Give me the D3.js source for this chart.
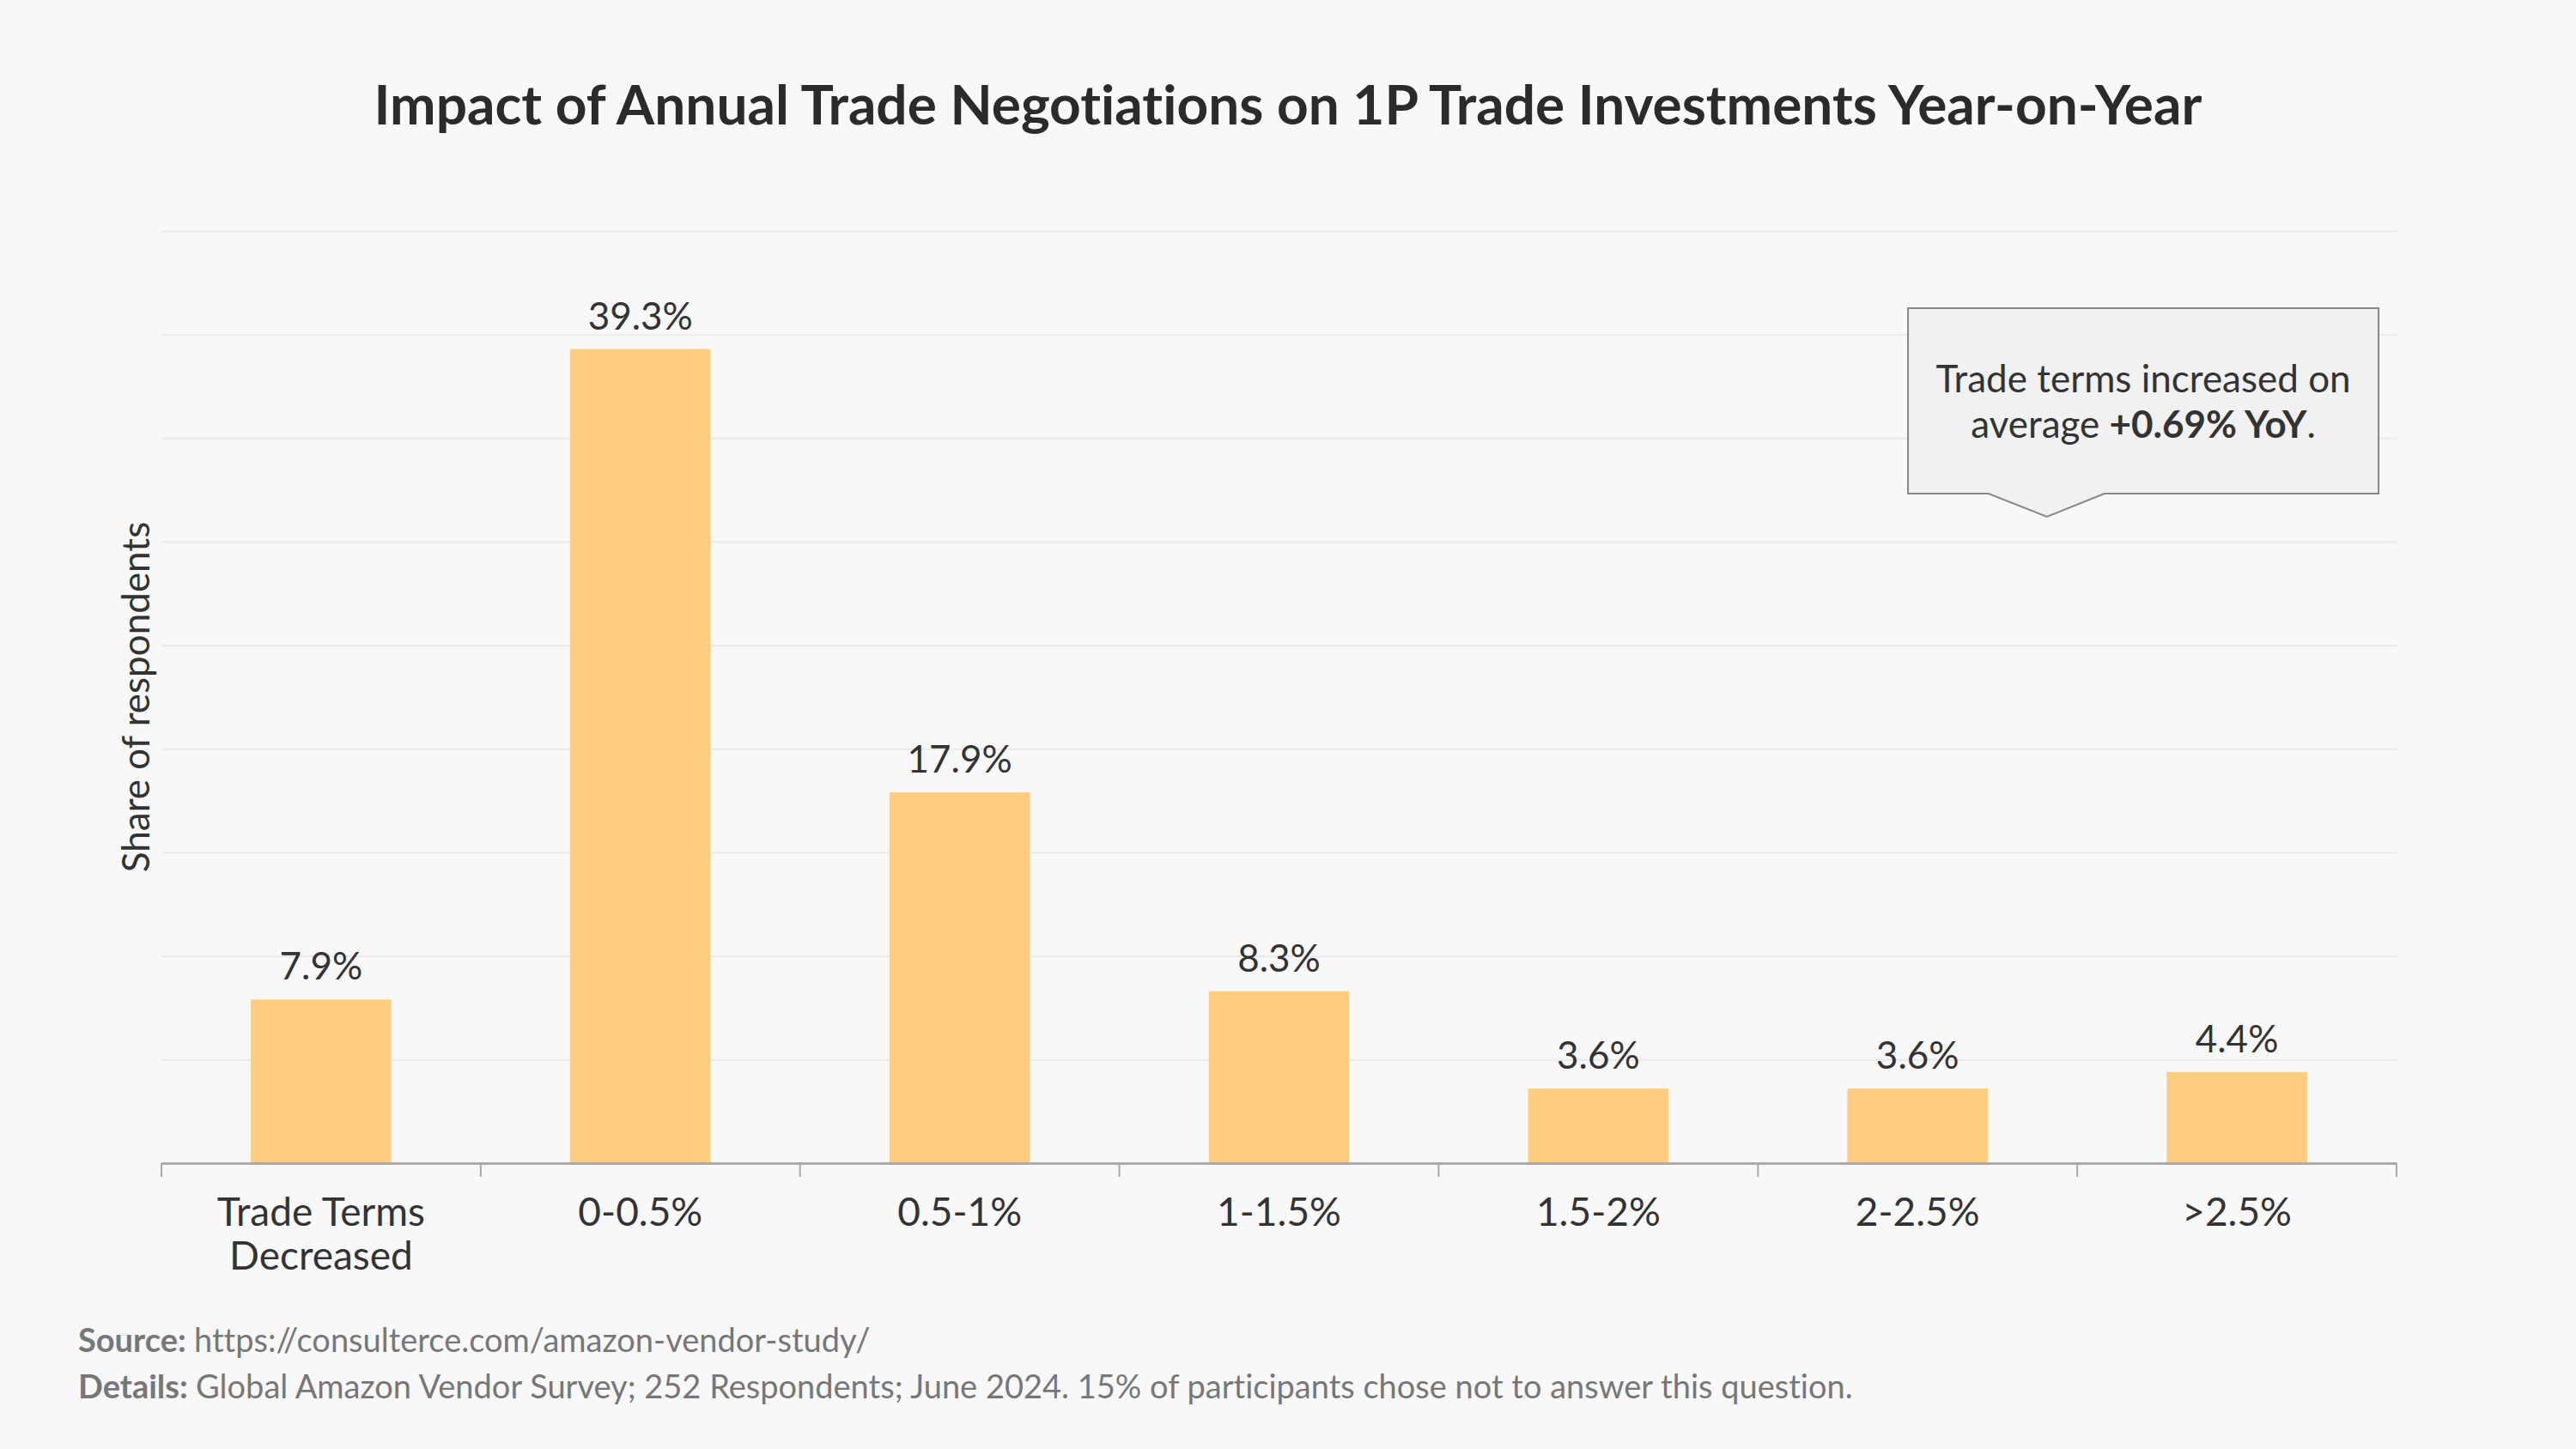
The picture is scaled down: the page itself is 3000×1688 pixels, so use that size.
<!DOCTYPE html>
<html>
<head>
<meta charset="utf-8">
<script src="https://cdn.jsdelivr.net/npm/d3@7"></script>
<style>
  html, body { margin: 0; padding: 0; background: #f8f8f8; }
  svg { display: block; font-family: Lato, "Open Sans", sans-serif; font-variant-ligatures: none; }
</style>
</head>
<body>
<svg id="chart"></svg>
<script>
let barColor = "#FFCD80";
let gridColor = "#E9E9E9";
let axisColor = "#AAAAAA";
let textDark = "#333333";
let textGray = "#777777";

const categories = ["Trade Terms Decreased", "0-0.5%", "0.5-1%", "1-1.5%", "1.5-2%", "2-2.5%", ">2.5%"];
const shares = [7.9, 39.3, 17.9, 8.3, 3.6, 3.6, 4.4];
const yTicks = [5, 10, 15, 20, 25, 30, 35, 40, 45];

const titleText = "Impact of Annual Trade Negotiations on 1P Trade Investments Year-on-Year";
const yLabel = "Share of respondents";
const noteLine1 = "Trade terms increased on";
const noteLine2a = "average ";
const noteLine2b = "+0.69% YoY";
const sourceText = "https://consulterce.com/amazon-vendor-study/";
const detailsText = "Global Amazon Vendor Survey; 252 Respondents; June 2024. 15% of participants chose not to answer this question.";

const data = categories.map((c, i) => ({ category: c, value: shares[i] }));

const width = 3000;
const height = 1688;
const margin = { top: 269, right: 209, bottom: 333, left: 188 };

let boundedWidth = width - margin.left - margin.right;
let boundedHeight = height - margin.top - margin.bottom;

const svg = d3.select("#chart")
  .attr("width", width)
  .attr("height", height);

svg.append("rect")
  .attr("width", width)
  .attr("height", height)
  .attr("fill", "#f8f8f8");

// title
svg.append("text")
  .attr("x", width / 2)
  .attr("y", 145)
  .attr("text-anchor", "middle")
  .attr("fill", "#2b2b2b")
  .style("font-size", "64px")
  .style("font-weight", "700")
  .text(titleText);

const g = svg.append("g")
  .attr("transform", `translate(${margin.left}, ${margin.top})`);

const xScale = d3.scaleBand()
  .domain(categories)
  .range([0, boundedWidth])
  .padding(0);

const yScale = d3.scaleLinear()
  .domain([0, 45])
  .range([boundedHeight, 0]);

//grid lines
g.append("g")
  .attr("class", "grid")
  .call(d3.axisLeft(yScale)
    .tickValues(yTicks)
    .tickSize(-boundedWidth)
    .tickFormat(""))
  .call(s => s.select(".domain").remove());

g.selectAll(".grid .tick line")
  .attr("stroke", gridColor)
  .attr("stroke-width", 2);

//bars
const bw = xScale.bandwidth();
const barW = bw * 0.44;

g.selectAll(".bar")
  .data(data)
  .enter()
  .append("rect")
  .attr("class", "bar")
  .attr("x", d => xScale(d.category) + (bw - barW) / 2)
  .attr("y", d => yScale(d.value))
  .attr("width", barW)
  .attr("height", d => boundedHeight - yScale(d.value))
  .attr("fill", barColor);

//value labels
g.selectAll(".val")
  .data(data)
  .enter()
  .append("text")
  .attr("class", "val")
  .attr("x", d => xScale(d.category) + bw / 2)
  .attr("y", d => yScale(d.value) - 23)
  .attr("text-anchor", "middle")
  .attr("fill", textDark)
  .style("font-size", "44px")
  .text(d => d.value.toFixed(1) + "%");

//x axis
const xAxis = g.append("g")
  .attr("class", "xaxis")
  .attr("transform", `translate(0, ${boundedHeight})`)
  .call(d3.axisBottom(xScale).tickSize(0).tickPadding(0));

xAxis.select(".domain")
  .attr("stroke", axisColor)
  .attr("stroke-width", 3);

xAxis.selectAll(".tick text")
  .attr("fill", textDark)
  .attr("dy", null)
  .attr("y", 73)
  .style("font-size", "46px")
  .style("font-family", "Lato, sans-serif")
  .call(wrap, bw * 0.8);

// tick marks at band edges
const edges = categories.map(c => xScale(c)).concat([xScale.range()[1]]);
xAxis.selectAll(".edge")
  .data(edges)
  .enter()
  .append("line")
  .attr("class", "edge")
  .attr("x1", d => d)
  .attr("x2", d => d)
  .attr("y1", 0)
  .attr("y2", 16)
  .attr("stroke", axisColor)
  .attr("stroke-width", 2);

//y label
svg.append("text")
  .attr("transform", `translate(174, ${margin.top + boundedHeight / 2}) rotate(-90)`)
  .attr("text-anchor", "middle")
  .attr("fill", textDark)
  .style("font-size", "44px")
  .text(yLabel);

//annotation callout
const boxX = xScale("2-2.5%") + bw * 0.47;
const boxW = 548;
const boxY = yScale(41.27);
const boxH = 216;
const tipX = xScale("2-2.5%") + bw * 0.905;
const tipY = yScale(31.2);

const note = svg.append("g")
  .attr("transform", `translate(${margin.left}, ${margin.top})`);

const path = d3.path();
path.moveTo(boxX, boxY);
path.lineTo(boxX + boxW, boxY);
path.lineTo(boxX + boxW, boxY + boxH);
path.lineTo(tipX + 67, boxY + boxH);
path.lineTo(tipX, tipY);
path.lineTo(tipX - 68, boxY + boxH);
path.lineTo(boxX, boxY + boxH);
path.closePath();

note.append("path")
  .attr("d", path.toString())
  .attr("fill", "#F1F1F1")
  .attr("stroke", "#888888")
  .attr("stroke-width", 2);

const noteText = note.append("text")
  .attr("x", boxX + boxW / 2)
  .attr("text-anchor", "middle")
  .attr("fill", textDark)
  .style("font-size", "44px");

noteText.append("tspan")
  .attr("x", boxX + boxW / 2)
  .attr("y", boxY + 98)
  .text(noteLine1);

const l2 = noteText.append("tspan")
  .attr("x", boxX + boxW / 2)
  .attr("y", boxY + 151);
l2.append("tspan").text(noteLine2a);
l2.append("tspan").style("font-weight", "700").text(noteLine2b);
l2.append("tspan").text(".");

//footer
const foot = svg.append("g")
  .attr("fill", textGray)
  .style("font-size", "38px");

const f1 = foot.append("text").attr("x", 91).attr("y", 1575);
f1.append("tspan").style("font-weight", "700").text("Source: ");
f1.append("tspan").text(sourceText);

const f2 = foot.append("text").attr("x", 91).attr("y", 1629);
f2.append("tspan").style("font-weight", "700").text("Details: ");
f2.append("tspan").text(detailsText);

function wrap(text, w) {
  text.each(function () {
    const t = d3.select(this);
    const words = t.text().split(/\s+/);
    const y = t.attr("y");
    let line = [];
    let lineNo = 0;
    t.text(null);
    let tspan = t.append("tspan").attr("x", 0).attr("y", y);
    words.forEach(word => {
      line.push(word);
      tspan.text(line.join(" "));
      if (tspan.node().getComputedTextLength() > w && line.length > 1) {
        line.pop();
        tspan.text(line.join(" "));
        line = [word];
        lineNo++;
        tspan = t.append("tspan")
          .attr("x", 0)
          .attr("y", +y + lineNo * 51)
          .text(word);
      }
    });
  });
}
</script>
</body>
</html>
